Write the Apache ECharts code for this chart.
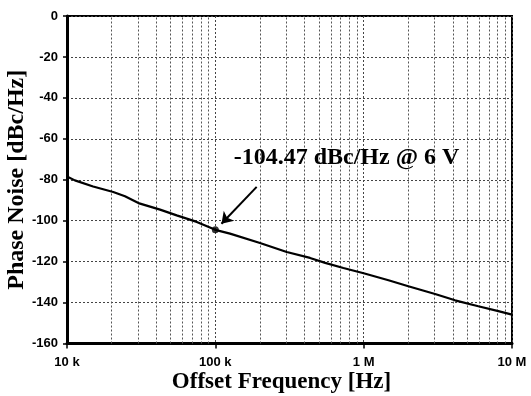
<!DOCTYPE html>
<html>
<head>
<meta charset="utf-8">
<script src="https://cdn.jsdelivr.net/npm/echarts@6/dist/echarts.min.js"></script>
<style>
html,body{margin:0;padding:0;background:#fff;}
#chart{width:531px;height:396px;}
</style>
</head>
<body>
<div id="chart"></div>
<script>
// Offset frequency (Hz) and phase noise (dBc/Hz)
const freq = [1e4, 11300, 15000, 20500, 24600, 30300, 42400, 54900, 75000, 100000, 125600, 200000, 303000, 435000, 550000, 730000, 1e6, 1.47e6, 2e6, 3.03e6, 4.13e6, 5.93e6, 8.09e6, 1e7];
const phaseNoise = [-78.4, -80.3, -83.3, -86.0, -88.1, -91.4, -94.6, -97.4, -100.6, -104.47, -106.3, -110.9, -115.3, -118.2, -120.6, -123.1, -125.7, -129.1, -132.0, -135.8, -138.9, -141.8, -144.2, -145.9];
// highlighted point
const markFreq = [100000];
const markValue = [-104.47];
const annotationText = '-104.47 dBc/Hz @ 6 V';
// x tick labels
const xTickValues = [1e4, 1e5, 1e6, 1e7];
const xTickLabels = ['10 k', '100 k', '1 M', '10 M'];
// minor log grid
const decades = [1e4, 1e5, 1e6];
const minorMultipliers = [2, 3, 4, 5, 6, 7, 8, 9];
// arrow and annotation anchor (data coordinates)
const arrowFrom = [190000, -83.5];
const arrowTo = [110000, -101.5];
const textAnchor = [133000, -69.5];

const minorLines = [];
decades.forEach(d => minorMultipliers.forEach(m => minorLines.push({ xAxis: d * m })));

const chart = echarts.init(document.getElementById('chart'), null, { renderer: 'canvas' });

const serif = 'Liberation Serif, Times New Roman, serif';
const sans = 'Liberation Sans, Arial, sans-serif';

chart.setOption({
  animation: false,
  backgroundColor: '#fff',
  grid: { left: 67, right: 19, top: 16, bottom: 52.5, containLabel: false, outerBoundsMode: 'none', show: true, borderColor: '#000', borderWidth: 2, backgroundColor: 'transparent' },
  xAxis: {
    type: 'log', logBase: 10, min: 1e4, max: 1e7,
    name: 'Offset Frequency [Hz]', nameLocation: 'middle', nameGap: 27, nameMoveOverlap: false,
    nameTextStyle: { fontFamily: serif, fontWeight: 'bold', fontSize: 23, color: '#000', padding: [0, 16, 0, 0] },
    axisLine: { onZero: false, lineStyle: { color: '#000', width: 3 } },
    axisTick: { show: true, inside: false, length: 5, lineStyle: { color: '#000', width: 1.5 } },
    axisLabel: {
      margin: 12, color: '#000', fontFamily: sans, fontWeight: 'bold', fontSize: 13,
      alignMinLabel: 'center', alignMaxLabel: 'center',
      formatter: v => { const i = xTickValues.findIndex(t => Math.abs(t - v) / t < 1e-6); return i >= 0 ? xTickLabels[i] : ''; }
    },
    splitLine: { show: true, lineStyle: { color: '#444', width: 1, type: [2, 2] } }
  },
  yAxis: {
    type: 'value', min: -160, max: 0, interval: 20,
    name: 'Phase Noise [dBc/Hz]', nameLocation: 'middle', nameGap: 38, nameMoveOverlap: false,
    nameTextStyle: { fontFamily: serif, fontWeight: 'bold', fontSize: 24, color: '#000' },
    axisLine: { show: true, lineStyle: { color: '#000', width: 3 } },
    axisTick: { show: true, inside: false, length: 4, lineStyle: { color: '#000', width: 1.5 } },
    axisLabel: { margin: 9, color: '#000', fontFamily: sans, fontWeight: 'bold', fontSize: 13 },
    splitLine: { show: true, lineStyle: { color: '#444', width: 1, type: [2, 2] } }
  },
  series: [
    {
      type: 'line',
      data: freq.map((f, i) => [f, phaseNoise[i]]),
      symbol: 'none',
      lineStyle: { color: '#000', width: 2.2 },
      z: 5,
      markLine: {
        silent: true, symbol: 'none', animation: false,
        label: { show: false },
        lineStyle: { color: '#555', width: 1, type: [2, 2] },
        data: minorLines
      }
    },
    {
      type: 'scatter',
      data: markFreq.map((f, i) => [f, markValue[i]]),
      symbol: 'circle', symbolSize: 7,
      itemStyle: { color: '#000' },
      z: 6,
      markLine: {
        silent: true, animation: false,
        symbol: ['none', 'arrow'], symbolSize: 11,
        label: { show: false },
        lineStyle: { color: '#000', width: 2, type: 'solid' },
        itemStyle: { color: '#000' },
        data: [[{ coord: arrowFrom }, { coord: arrowTo }]]
      },
      markPoint: {
        silent: true, animation: false,
        symbol: 'circle', symbolSize: 0,
        label: {
          show: true, position: 'right', distance: 0,
          formatter: annotationText,
          fontFamily: serif, fontWeight: 'bold', fontSize: 24, color: '#000'
        },
        data: [{ coord: textAnchor }]
      }
    }
  ]
});
</script>
</body>
</html>
